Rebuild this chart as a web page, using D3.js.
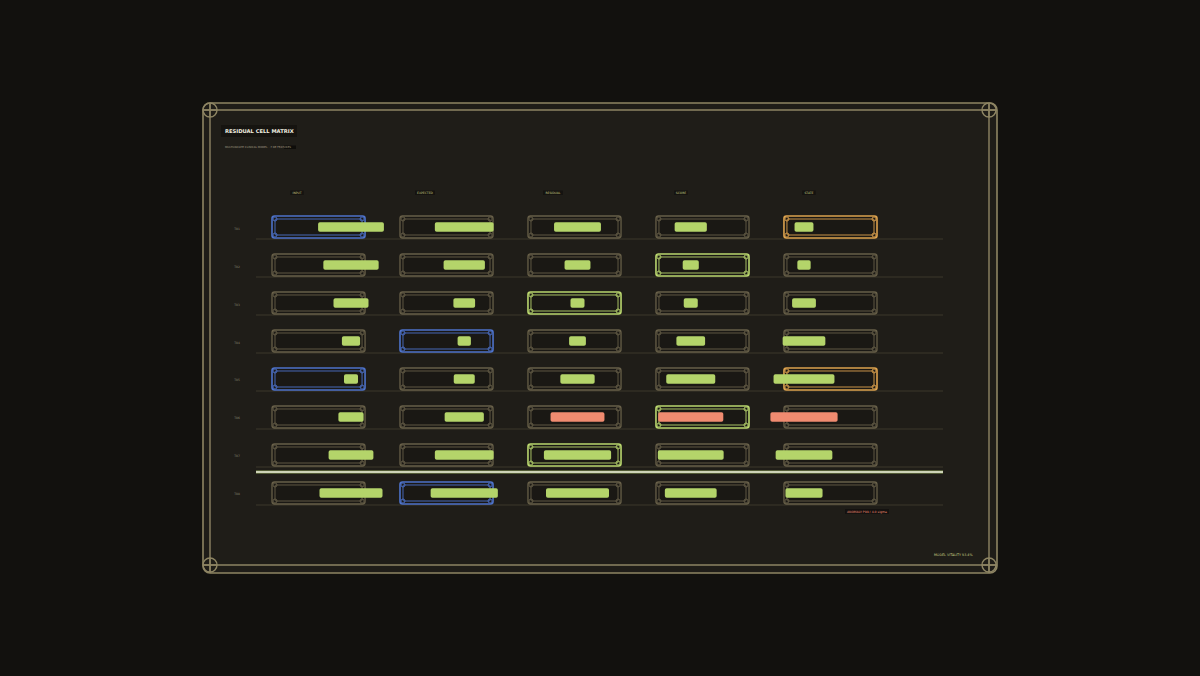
<!DOCTYPE html>
<html><head><meta charset="utf-8">
<script src="https://cdn.jsdelivr.net/npm/d3@7/dist/d3.min.js"></script>
<style>
html,body{margin:0;padding:0;background:#12110e;}
svg{display:block;}
</style></head>
<body>
<svg id="chart" width="1200" height="676"></svg>
<script>
// ---- data ----
const columns = ["INPUT", "EXPECTED", "RESIDUAL", "SCORE", "STATE"];
const rows = ["T01", "T02", "T03", "T04", "T05", "T06", "T07", "T08"];
const values = [
  [0.94, 0.84, 0.67, 0.46, 0.27],
  [0.79, 0.59, 0.37, 0.23, 0.19],
  [0.50, 0.31, 0.20, 0.20, 0.34],
  [0.26, 0.19, 0.24, 0.41, 0.61],
  [0.20, 0.30, 0.49, 0.70, 0.87],
  [0.36, 0.56, 0.77, 0.93, 0.96],
  [0.64, 0.84, 0.96, 0.94, 0.81],
  [0.90, 0.96, 0.90, 0.74, 0.53]
];
const cellFlags = [
  ["blue", "", "", "", "orange"],
  ["", "", "", "green", ""],
  ["", "", "green", "", ""],
  ["", "blue", "", "", ""],
  ["blue", "", "", "", "orange"],
  ["", "", "", "green", ""],
  ["", "", "green", "", ""],
  ["", "blue", "", "", ""]
];
const anomalyRow = ["", "", "", "", "", "alert", "", ""];
const title = "RESIDUAL CELL MATRIX";
const subtitle = "MULTIVARIATE CLINICAL MODEL · 7 DE FEATURES";
const anomalyLabel = "ANOMALY P99 / 4.0 sigma";
const footerLabel = "MODEL VITALITY  93.4%";

// ---- styles ----
const flagColor = {"": "#675f48", blue: "#4d72c9", orange: "#dca24e", green: "#b9d66e"};
const barGreen = "#b4d46a", barRed = "#f08b70";
const svg = d3.select("#chart");

// frame
const fx0 = 203, fx1 = 997, fy0 = 103, fy1 = 573, ix0 = 210, ix1 = 989, iy0 = 110, iy1 = 565;
const frameC = "#8e8563";
svg.append("rect").attr("x", fx0).attr("y", fy0).attr("width", fx1 - fx0).attr("height", fy1 - fy0)
  .attr("rx", 7).attr("fill", "#1f1d18").attr("stroke", frameC).attr("stroke-width", 1.6);
const fr = svg.append("g").attr("stroke", frameC).attr("stroke-width", 1.4).attr("fill", "none");
[[ix0, fy0, ix0, fy1], [ix1, fy0, ix1, fy1], [fx0, iy0, fx1, iy0], [fx0, iy1, fx1, iy1]].forEach(l =>
  fr.append("line").attr("x1", l[0]).attr("y1", l[1]).attr("x2", l[2]).attr("y2", l[3]));
[[ix0, iy0], [ix1, iy0], [ix0, iy1], [ix1, iy1]].forEach(p => {
  fr.append("circle").attr("cx", p[0]).attr("cy", p[1]).attr("r", 7);
  fr.append("line").attr("x1", p[0] - 7).attr("x2", p[0] + 7).attr("y1", p[1]).attr("y2", p[1]);
  fr.append("line").attr("x1", p[0]).attr("x2", p[0]).attr("y1", p[1] - 7).attr("y2", p[1] + 7);
});

// title
svg.append("rect").attr("x", 221).attr("y", 125).attr("width", 76).attr("height", 12).attr("fill", "#161410");
svg.append("text").attr("x", 225).attr("y", 133).text(title)
  .attr("font-family", "DejaVu Sans, sans-serif").attr("font-weight", "bold").attr("font-size", 5.2)
  .attr("fill", "#f2efe0");
svg.append("rect").attr("x", 284).attr("y", 145.5).attr("width", 12).attr("height", 3.5).attr("fill", "#0e0d0a");
svg.append("text").attr("x", 225).attr("y", 148.3).text(subtitle)
  .attr("font-family", "DejaVu Sans, sans-serif").attr("font-size", 2.7).attr("fill", "#a39c84");

// scales
const x = d3.scaleBand().domain(columns).range([272, 877]).paddingInner(0.273).paddingOuter(0);
const y = d3.scaleBand().domain(rows).range([216, 504]).paddingInner(0.421).paddingOuter(0);
const barCenter = d3.scaleLinear().domain([0, columns.length - 1]).range([351, 804]);
const w = d3.scaleLinear().domain([0, 1]).range([0, 70]);
const barH = 9.5;

// column headers
const hdr = svg.append("g");
columns.forEach(c => {
  const cx = x(c) + 25;
  const tw = c.length * 2.1;
  hdr.append("rect").attr("x", cx - tw / 2 - 1.5).attr("y", 190.5).attr("width", tw + 3).attr("height", 4.5).attr("fill", "#151310");
  hdr.append("text").attr("x", cx).attr("y", 194).attr("text-anchor", "middle").text(c)
    .attr("font-family", "DejaVu Sans, sans-serif").attr("font-size", 3).attr("fill", "#c9cf86");
});

// row lines & labels
rows.forEach(r => {
  const yb = y(r) + y.bandwidth() + 1;
  svg.append("line").attr("x1", 256).attr("x2", 943).attr("y1", yb).attr("y2", yb)
    .attr("stroke", "#3d392b").attr("stroke-width", 1);
  svg.append("text").attr("x", 237).attr("y", y(r) + y.bandwidth() / 2 + 2.5).attr("text-anchor", "middle").text(r)
    .attr("font-family", "DejaVu Sans, sans-serif").attr("font-size", 3).attr("fill", "#8a8574");
});

// highlight line between row 7 and 8
const hy = y(rows[6]) + y.bandwidth() + 6;
svg.append("line").attr("x1", 256).attr("x2", 943).attr("y1", hy).attr("y2", hy)
  .attr("stroke", "#b9d66e").attr("stroke-width", 3.5).attr("opacity", 0.45);
svg.append("line").attr("x1", 256).attr("x2", 943).attr("y1", hy).attr("y2", hy)
  .attr("stroke", "#f1f5df").attr("stroke-width", 1.6);

// cells
const cells = svg.append("g");
rows.forEach((r, ri) => {
  columns.forEach((c, ci) => {
    const x0 = x(c), y0 = y(r), bw = x.bandwidth(), bh = y.bandwidth();
    const col = flagColor[cellFlags[ri][ci]];
    const hi = cellFlags[ri][ci] !== "";
    const g = cells.append("g");
    g.append("rect").attr("x", x0).attr("y", y0).attr("width", bw).attr("height", bh).attr("rx", 2.5)
      .attr("fill", "#1a1814").attr("stroke", col).attr("stroke-width", hi ? 1.6 : 1.3);
    g.append("rect").attr("x", x0 + 3).attr("y", y0 + 3).attr("width", bw - 6).attr("height", bh - 6).attr("rx", 1)
      .attr("fill", "none").attr("stroke", col).attr("stroke-width", 0.9);
    [[x0 + 3, y0 + 3], [x0 + bw - 3, y0 + 3], [x0 + 3, y0 + bh - 3], [x0 + bw - 3, y0 + bh - 3]].forEach(p =>
      g.append("circle").attr("cx", p[0]).attr("cy", p[1]).attr("r", 2).attr("fill", "none")
        .attr("stroke", col).attr("stroke-width", 0.9));
  });
});

// bars
const bars = svg.append("g");
rows.forEach((r, ri) => {
  columns.forEach((c, ci) => {
    const v = values[ri][ci];
    const isRed = anomalyRow[ri] === "alert" && ci >= 2;
    bars.append("rect")
      .attr("x", barCenter(ci) - w(v) / 2).attr("y", y(r) + y.bandwidth() / 2 - barH / 2)
      .attr("width", w(v)).attr("height", barH).attr("rx", 1.8)
      .attr("fill", isRed ? barRed : barGreen);
  });
});

// anomaly label
svg.append("rect").attr("x", 845).attr("y", 509).attr("width", 44).attr("height", 5).attr("fill", "#141210");
svg.append("text").attr("x", 847).attr("y", 513).text(anomalyLabel)
  .attr("font-family", "DejaVu Sans, sans-serif").attr("font-size", 3.1).attr("fill", "#ee8a70");

// footer
svg.append("text").attr("x", 934).attr("y", 555.5).text(footerLabel)
  .attr("font-family", "DejaVu Sans, sans-serif").attr("font-size", 3.3).attr("fill", "#c9cf86");
</script>
</body></html>
